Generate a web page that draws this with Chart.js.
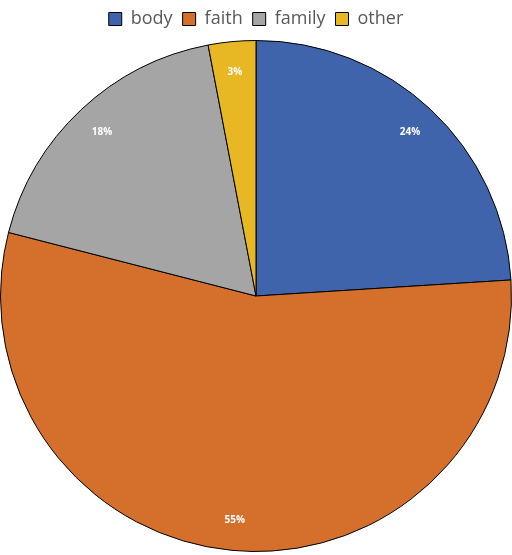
<!DOCTYPE html>
<html><head><meta charset="utf-8">
<script src="https://cdn.jsdelivr.net/npm/chart.js@4"></script>
<style>html,body{margin:0;padding:0;background:#fff}#w{width:512px;height:555px}</style>
</head><body><div id="w"><canvas id="c"></canvas></div>
<script>
const categories = ["body","faith","family","other"];
const values = [24,55,18,3];
const colors = ["#4064AC","#D4702C","#A5A5A5","#E8B824"];
const labelPlugin = {
  id:'lbl',
  afterDatasetsDraw(chart){
    const ctx=chart.ctx, meta=chart.getDatasetMeta(0);
    ctx.save();
    ctx.fillStyle='#fff';ctx.font='bold 10px "Open Sans", sans-serif';
    ctx.textAlign='center';ctx.textBaseline='middle';
    meta.data.forEach((a,i)=>{
      const ang=(a.startAngle+a.endAngle)/2, r=a.outerRadius*0.88;
      ctx.fillText(values[i]+'%', a.x+Math.cos(ang)*r, a.y+Math.sin(ang)*r);
    });
    ctx.restore();
  }
};
new Chart(document.getElementById('c'),{
  type:'pie',
  data:{labels:categories,datasets:[{data:values,backgroundColor:colors,borderColor:'#000',borderWidth:1}]},
  options:{responsive:true,maintainAspectRatio:false,animation:false,
    layout:{padding:{top:0,bottom:1,left:0,right:0}},
    plugins:{tooltip:{enabled:false},
      legend:{position:'top',labels:{boxWidth:13,boxHeight:13,padding:10,color:'#595959',font:{size:18,family:'"Open Sans", sans-serif'}}}}},
  plugins:[labelPlugin]
});
</script></body></html>
